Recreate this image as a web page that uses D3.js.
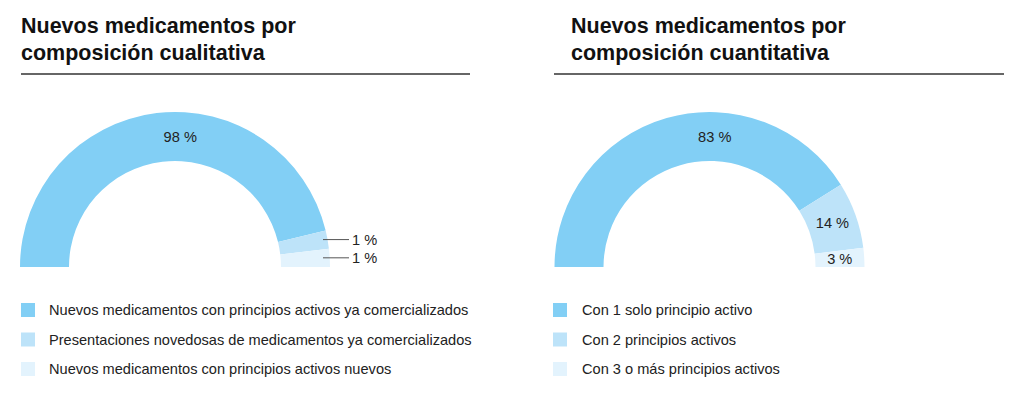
<!DOCTYPE html>
<html>
<head>
<meta charset="utf-8">
<script src="https://cdn.jsdelivr.net/npm/d3@7"></script>
<style>
  body { margin: 0; background: #fff; }
  svg { display: block; }
  .title { font-family: "Liberation Sans", Arial, sans-serif; font-weight: bold; font-size: 21.5px; fill: #111; }
  .legend text, .pct { font-family: "Liberation Sans", Arial, sans-serif; font-size: 14.6px; fill: #222; }
</style>
</head>
<body>
<svg id="chart" width="1024" height="401"></svg>
<script>
// data
var qualTitle = ["Nuevos medicamentos por", "composición cualitativa"];
var qualKeys = [
  "Nuevos medicamentos con principios activos ya comercializados",
  "Presentaciones novedosas de medicamentos ya comercializados",
  "Nuevos medicamentos con principios activos nuevos"
];
var qualValues = [98, 1, 1];

var quantTitle = ["Nuevos medicamentos por", "composición cuantitativa"];
var quantKeys = [
  "Con 1 solo principio activo",
  "Con 2 principios activos",
  "Con 3 o más principios activos"
];
var quantValues = [83, 14, 3];

var colors = ["#82cff5", "#bde3f9", "#e3f3fd"];

var svg = d3.select("#chart");
var outerR = 155, innerR = 106;
var minShare = 4; // tiny slices get a visible minimum width

function drawPanel(opts) {
  var g = svg.append("g");

  // title
  var t = g.append("text").attr("class", "title")
      .attr("x", opts.titleX).attr("y", 33);
  opts.title.forEach(function(line, i) {
    t.append("tspan").attr("x", opts.titleX).attr("dy", i == 0 ? 0 : 27).text(line);
  });

  g.append("line")
      .attr("x1", opts.ruleX1).attr("x2", opts.ruleX2)
      .attr("y1", 74).attr("y2", 74)
      .attr("stroke", "#333").attr("stroke-width", 1.5);

  var data = opts.keys.map(function(k, i) { return {key: k, value: opts.values[i], i: i}; });

  var pie = d3.pie()
      .sort(null)
      .startAngle(-Math.PI / 2)
      .endAngle(Math.PI / 2)
      .value(function(d) { return Math.max(d.value, minShare); });

  var arc = d3.arc().innerRadius(innerR).outerRadius(outerR);
  var midR = (innerR + outerR) / 2;

  var chart = g.append("g")
      .attr("transform", "translate(" + opts.cx + "," + opts.cy + ")");

  var arcs = pie(data);

  chart.selectAll("path")
    .data(arcs)
    .enter().append("path")
      .attr("d", arc)
      .attr("fill", function(d) { return colors[d.data.i]; });

  arcs.forEach(function(d) {
    var a = (d.startAngle + d.endAngle) / 2;
    if (d.index == 0) a = 0.04; // big slice label sits at the top
    if (d.data.value >= 3) {
      chart.append("text").attr("class", "pct")
          .attr("x", midR * Math.sin(a))
          .attr("y", -midR * Math.cos(a))
          .attr("text-anchor", "middle")
          .attr("dy", "0.35em")
          .text(d.data.value + " %");
    } else {
      var y = -outerR * Math.cos(a);
      chart.append("line")
          .attr("x1", outerR - 7).attr("x2", outerR + 19)
          .attr("y1", y).attr("y2", y)
          .attr("stroke", "#555").attr("stroke-width", 1);
      chart.append("text").attr("class", "pct")
          .attr("x", outerR + 22).attr("y", y)
          .attr("dy", "0.35em")
          .text(d.data.value + " %");
    }
  });

  // legend
  var legend = g.append("g").attr("class", "legend")
    .selectAll("g")
    .data(data)
    .enter().append("g")
      .attr("transform", function(d, i) { return "translate(" + opts.legendX + "," + (303 + i * 29.5) + ")"; });

  legend.append("rect")
      .attr("width", 14).attr("height", 14)
      .attr("fill", function(d) { return colors[d.i]; });

  legend.append("text")
      .attr("x", opts.legendTextDx)
      .attr("y", 7)
      .attr("dy", "0.35em")
      .text(function(d) { return d.key; });
}

drawPanel({
  title: qualTitle, keys: qualKeys, values: qualValues,
  titleX: 21, ruleX1: 21, ruleX2: 470,
  cx: 175, cy: 267, legendX: 21, legendTextDx: 28
});

drawPanel({
  title: quantTitle, keys: quantKeys, values: quantValues,
  titleX: 571, ruleX1: 554, ruleX2: 1004,
  cx: 709.5, cy: 267, legendX: 553, legendTextDx: 29
});
</script>
</body>
</html>
